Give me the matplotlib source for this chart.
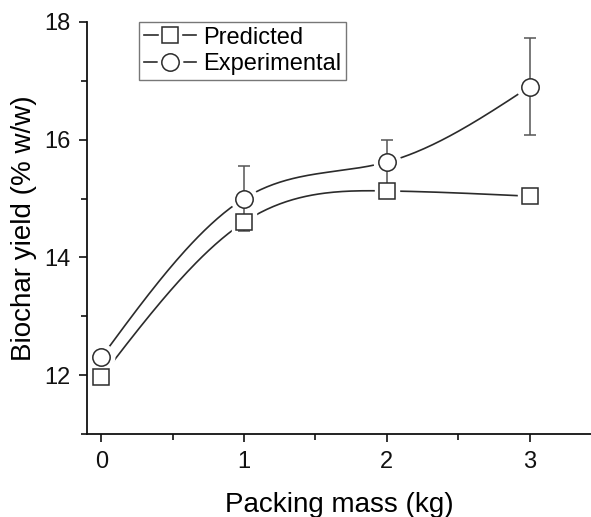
import numpy as np
import matplotlib
matplotlib.use("Agg")
import matplotlib.pyplot as plt
from matplotlib.lines import Line2D
from matplotlib.ticker import MultipleLocator

plt.rcParams['font.family'] = ['Liberation Sans', 'DejaVu Sans']

packing_mass = [0, 1, 2, 3]
predicted = [11.97, 14.60, 15.13, 15.04]
experimental = [12.30, 15.00, 15.62, 16.90]
experimental_err = [0.05, 0.55, 0.38, 0.82]


def natural_spline(x, y, n=200):
    """Natural cubic spline through (x, y), evaluated on a fine grid."""
    x = np.asarray(x, float)
    y = np.asarray(y, float)
    k = len(x)
    h = np.diff(x)
    A = np.zeros((k, k))
    b = np.zeros(k)
    A[0, 0] = A[-1, -1] = 1.0
    for i in range(1, k - 1):
        A[i, i - 1] = h[i - 1]
        A[i, i] = 2 * (h[i - 1] + h[i])
        A[i, i + 1] = h[i]
        b[i] = 6 * ((y[i + 1] - y[i]) / h[i] - (y[i] - y[i - 1]) / h[i - 1])
    M = np.linalg.solve(A, b)
    xs = np.linspace(x[0], x[-1], n)
    idx = np.clip(np.searchsorted(x, xs) - 1, 0, k - 2)
    x0, x1 = x[idx], x[idx + 1]
    hh = x1 - x0
    t0 = x1 - xs
    t1 = xs - x0
    ys = (M[idx] * t0 ** 3 / (6 * hh) + M[idx + 1] * t1 ** 3 / (6 * hh)
          + (y[idx] / hh - M[idx] * hh / 6) * t0
          + (y[idx + 1] / hh - M[idx + 1] * hh / 6) * t1)
    return xs, ys


fig = plt.figure(figsize=(5.91, 5.17), dpi=100)
ax = fig.add_axes([0.1472, 0.1605, 0.8528, 0.797])

line_col = '#2b2b2b'
err_col = '#555555'

# smooth connecting curves
for yv in (predicted, experimental):
    xs, ys = natural_spline(packing_mass, yv)
    ax.plot(xs, ys, color=line_col, lw=1.2, zorder=1)

# white halos leave a small gap between curve and marker
ax.plot(packing_mass, predicted, ls='none', marker='s', ms=17,
        mfc='white', mec='white', zorder=2)
ax.plot(packing_mass, experimental, ls='none', marker='o', ms=19,
        mfc='white', mec='white', zorder=2)

ax.errorbar(packing_mass, experimental, yerr=experimental_err, fmt='none',
            ecolor=err_col, elinewidth=1.1, capsize=4, capthick=1.1, zorder=3)

ax.plot(packing_mass, predicted, ls='none', marker='s', ms=11,
        mfc='white', mec=line_col, mew=1.1, zorder=4)
ax.plot(packing_mass, experimental, ls='none', marker='o', ms=12.5,
        mfc='white', mec=line_col, mew=1.1, zorder=4)

ax.set_xlim(-0.1, 3.43)
ax.set_ylim(11, 18)
ax.xaxis.set_major_locator(MultipleLocator(1))
ax.xaxis.set_minor_locator(MultipleLocator(0.5))
ax.yaxis.set_major_locator(MultipleLocator(2))
ax.yaxis.set_minor_locator(MultipleLocator(1))

for s in ('top', 'right'):
    ax.spines[s].set_visible(False)
for s in ('left', 'bottom'):
    ax.spines[s].set_linewidth(1.3)
    ax.spines[s].set_color('#111111')

ax.tick_params(which='major', direction='out', length=6, width=1.2,
               labelsize=17, pad=6, colors='#111111')
ax.tick_params(which='minor', direction='out', length=4, width=1.2,
               colors='#111111')

ax.set_xlabel('Packing mass (kg)', fontsize=20, labelpad=14)
ax.set_ylabel('Biochar yield (% w/w)', fontsize=20, labelpad=5)


def legend_handle(marker, ms):
    ln = Line2D([], [], color=line_col, lw=1.2)
    halo = Line2D([], [], ls='none', marker=marker, ms=ms + 5,
                  mfc='white', mec='white')
    mk = Line2D([], [], ls='none', marker=marker, ms=ms,
                mfc='white', mec=line_col, mew=1.1)
    return (ln, halo, mk)


leg = ax.legend([legend_handle('s', 11), legend_handle('o', 12.5)],
                ['Predicted', 'Experimental'],
                loc='upper left', bbox_to_anchor=(0.103, 1.0),
                borderaxespad=0, fontsize=17, handlelength=2.2,
                handletextpad=0.3, borderpad=0.2, labelspacing=0.2,
                fancybox=False, framealpha=1)
leg.get_frame().set_edgecolor('#777777')
leg.get_frame().set_linewidth(1.0)

fig.savefig('out.png', dpi=100)
